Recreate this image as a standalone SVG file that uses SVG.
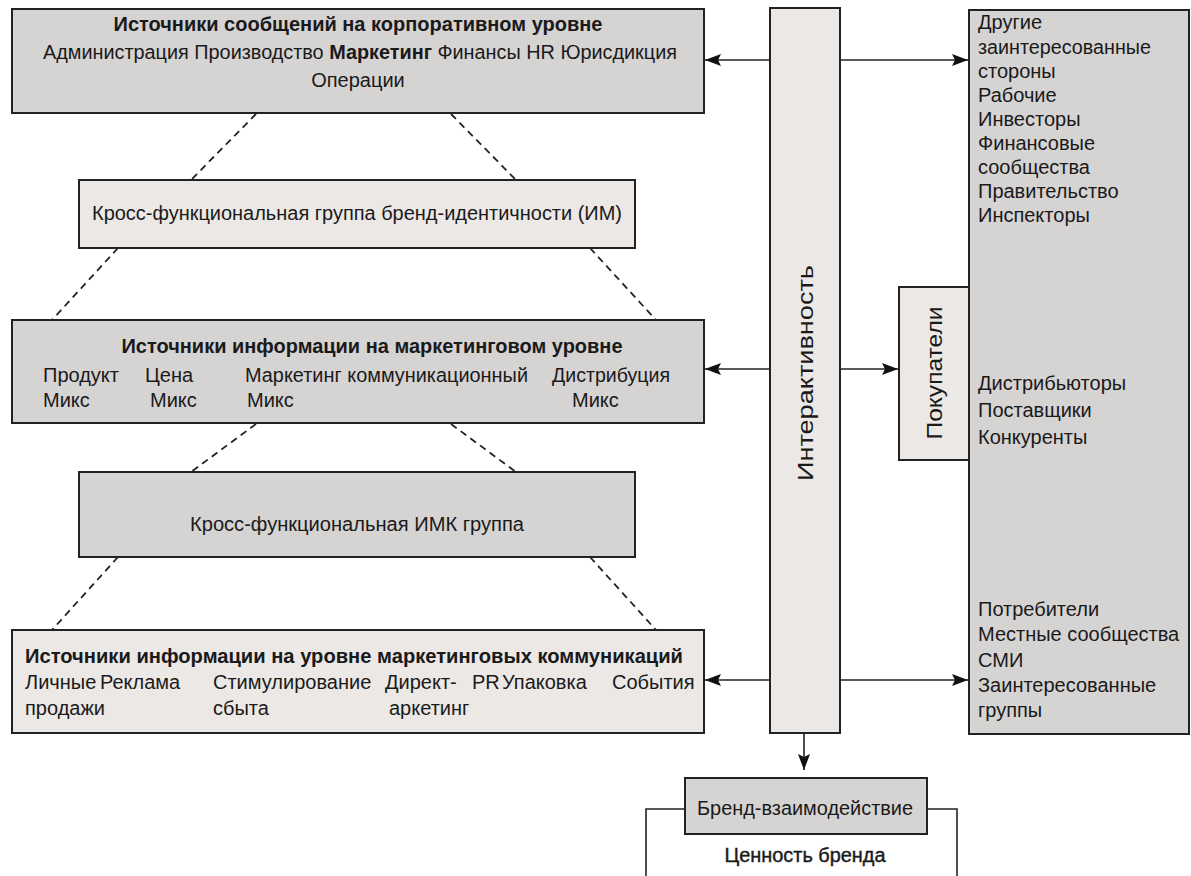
<svg xmlns="http://www.w3.org/2000/svg" width="1191" height="876" viewBox="0 0 1191 876">
<style>
.dark{fill:#d6d3d3;stroke:#222;stroke-width:2}
.light{fill:#ebe8e6;stroke:#222;stroke-width:2}
text{font-family:"Liberation Sans",Arial,sans-serif;font-size:20px;fill:#1a1a1a}
.b{font-weight:bold}
.c{text-anchor:middle}
.dash{stroke:#222;stroke-width:1.8;stroke-dasharray:7,5;fill:none}
.ln{stroke:#222;stroke-width:1.6;fill:none}
</style>
<defs>
<marker id="ah2" viewBox="0 0 16 12" refX="16" refY="6" markerWidth="16" markerHeight="12" markerUnits="userSpaceOnUse" orient="auto">
<path d="M0,0 L16,6 L0,12 L3,6 z" fill="#111"/>
</marker>
</defs>

<g id="connectors">
<line class="dash" x1="256" y1="114" x2="191" y2="180"/>
<line class="dash" x1="451" y1="114" x2="516" y2="180"/>
<line class="dash" x1="118" y1="248" x2="52" y2="320"/>
<line class="dash" x1="590" y1="248" x2="656" y2="320"/>
<line class="dash" x1="256" y1="424" x2="191" y2="472"/>
<line class="dash" x1="451" y1="424" x2="516" y2="472"/>
<line class="dash" x1="118" y1="557" x2="52" y2="630"/>
<line class="dash" x1="590" y1="557" x2="656" y2="630"/>
<line class="ln" x1="770" y1="60" x2="705" y2="60" marker-end="url(#ah2)"/>
<line class="ln" x1="840" y1="60" x2="968" y2="60" marker-end="url(#ah2)"/>
<line class="ln" x1="770" y1="369" x2="705" y2="369" marker-end="url(#ah2)"/>
<line class="ln" x1="840" y1="369" x2="898" y2="369" marker-end="url(#ah2)"/>
<line class="ln" x1="770" y1="680" x2="705" y2="680" marker-end="url(#ah2)"/>
<line class="ln" x1="840" y1="680" x2="968" y2="680" marker-end="url(#ah2)"/>
<line class="ln" x1="804" y1="734" x2="804" y2="770" marker-end="url(#ah2)"/>
<polyline class="ln" points="685,809 646,809 646,876"/>
<polyline class="ln" points="927,809 957,809 957,876"/>
</g>

<g id="node-corporate">
<rect class="dark" x="12" y="9" width="692" height="104"/>
<text class="b c" x="358" y="31" textLength="489" lengthAdjust="spacingAndGlyphs">Источники сообщений на корпоративном уровне</text>
<text x="43" y="59" textLength="634" lengthAdjust="spacingAndGlyphs">Администрация Производство <tspan class="b">Маркетинг</tspan> Финансы HR Юрисдикция</text>
<text class="c" x="358" y="87">Операции</text>
</g>

<g id="node-brand-identity-group">
<rect class="light" x="79" y="180" width="556" height="68"/>
<text class="c" x="357" y="220" textLength="530" lengthAdjust="spacingAndGlyphs">Кросс-функциональная группа бренд-идентичности (ИМ)</text>
</g>

<g id="node-marketing-level">
<rect class="dark" x="12" y="320" width="692" height="103"/>
<text class="b c" x="372" y="353" textLength="501" lengthAdjust="spacingAndGlyphs">Источники информации на маркетинговом уровне</text>
<text x="43" y="382">Продукт</text>
<text x="145" y="382">Цена</text>
<text x="245" y="382" textLength="283" lengthAdjust="spacingAndGlyphs">Маркетинг коммуникационный</text>
<text x="552" y="382" textLength="118" lengthAdjust="spacingAndGlyphs">Дистрибуция</text>
<text x="43" y="407">Микс</text>
<text x="150" y="407">Микс</text>
<text x="247" y="407">Микс</text>
<text x="572" y="407">Микс</text>
</g>

<g id="node-imc-group">
<rect class="dark" x="79" y="472" width="556" height="85"/>
<text class="c" x="357" y="531" textLength="334" lengthAdjust="spacingAndGlyphs">Кросс-функциональная ИМК группа</text>
</g>

<g id="node-marcom-level">
<rect class="light" x="12" y="630" width="692" height="103"/>
<text class="b" x="25" y="663" textLength="658" lengthAdjust="spacingAndGlyphs">Источники информации на уровне маркетинговых коммуникаций</text>
<text x="25" y="689">Личные</text>
<text x="100" y="689">Реклама</text>
<text x="213" y="689">Стимулирование</text>
<text x="385" y="689">Директ-</text>
<text x="472" y="689">PR</text>
<text x="502" y="689">Упаковка</text>
<text x="612" y="689">События</text>
<text x="25" y="715">продажи</text>
<text x="213" y="715">сбыта</text>
<text x="389" y="715">аркетинг</text>
</g>

<g id="node-interactivity">
<rect class="light" x="770" y="8" width="70" height="725"/>
<text class="c" transform="translate(813,373) rotate(-90)" textLength="216" lengthAdjust="spacingAndGlyphs" style="font-size:22px">Интерактивность</text>
</g>

<g id="node-stakeholders">
<rect class="dark" x="969" y="10" width="220" height="724"/>
<text x="978" y="29">Другие</text>
<text x="978" y="54" textLength="173" lengthAdjust="spacingAndGlyphs">заинтересованные</text>
<text x="978" y="78">стороны</text>
<text x="978" y="102">Рабочие</text>
<text x="978" y="126">Инвесторы</text>
<text x="978" y="150">Финансовые</text>
<text x="978" y="174">сообщества</text>
<text x="978" y="198">Правительство</text>
<text x="978" y="222">Инспекторы</text>
<text x="978" y="390">Дистрибьюторы</text>
<text x="978" y="417">Поставщики</text>
<text x="978" y="444">Конкуренты</text>
<text x="978" y="616">Потребители</text>
<text x="978" y="641">Местные сообщества</text>
<text x="978" y="667">СМИ</text>
<text x="978" y="692">Заинтересованные</text>
<text x="978" y="717">группы</text>
</g>

<g id="node-buyers">
<rect class="light" x="899" y="287" width="70" height="173"/>
<text class="c" transform="translate(942,373) rotate(-90)" textLength="133" lengthAdjust="spacingAndGlyphs" style="font-size:22px">Покупатели</text>
</g>

<g id="node-brand-interaction">
<rect class="dark" x="685" y="778" width="242" height="56"/>
<text class="c" x="805" y="815" textLength="216" lengthAdjust="spacingAndGlyphs">Бренд-взаимодействие</text>
<text class="c" x="805" y="862" textLength="161" lengthAdjust="spacingAndGlyphs" style="stroke:#1a1a1a;stroke-width:0.4">Ценность бренда</text>
</g>
</svg>
